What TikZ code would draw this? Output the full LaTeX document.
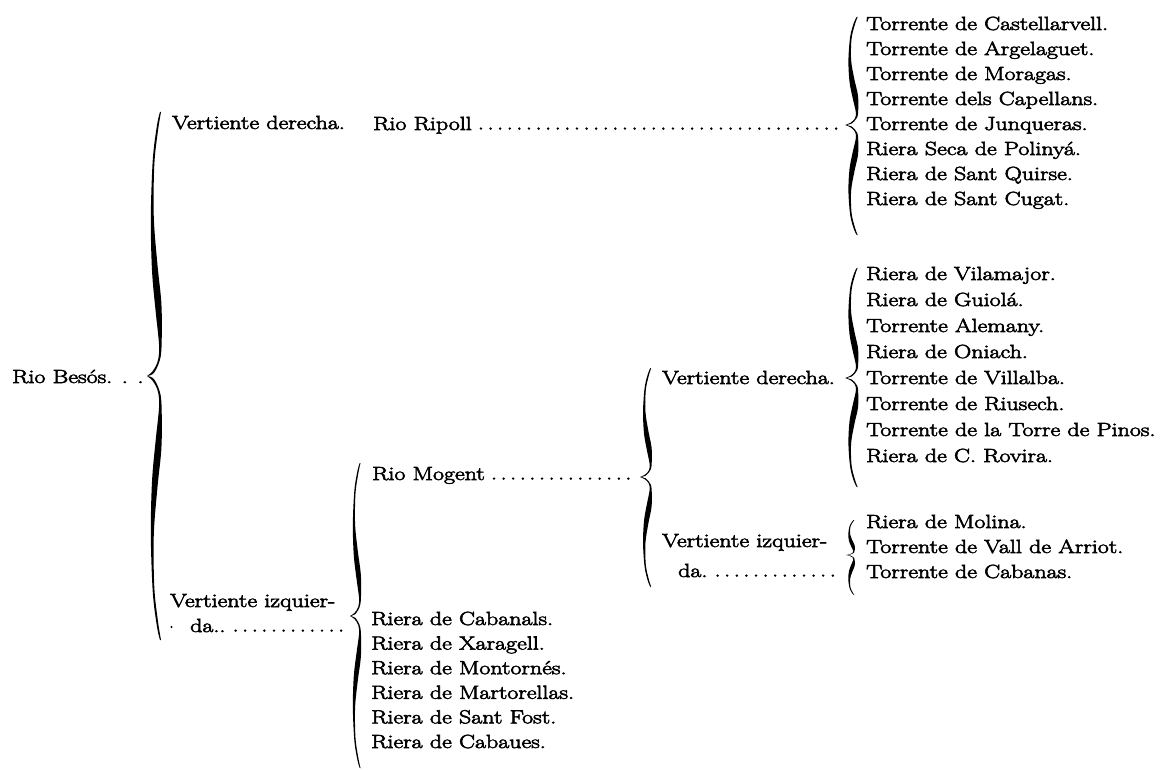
\documentclass[tikz,border=0pt]{standalone}
\usepackage{fontspec}
\setmainfont{Latin Modern Roman}[FakeStretch=1.26, FakeBold=3.2]
\tikzset{
  lbl/.style={anchor=base west, inner sep=0pt, font=\fontsize{19}{20}\selectfont},
  leader/.style={line width=2.7pt, line cap=round, dash pattern=on 0pt off 9.6pt},
  halfbrace/.pic={
    \fill plot[smooth,tension=0.55] coordinates {(0,0) (6,-0.02) (11,-0.06) (12,-0.12) (8.5,-0.25) (5,-0.4) (3.8,-0.6) (5.8,-0.82) (10,-0.95) (13,-1)}
      -- plot[smooth,tension=0.55] coordinates {(14,-1) (11,-0.93) (7.3,-0.8) (6.8,-0.6) (10.5,-0.42) (14.3,-0.28) (14.8,-0.16) (13.5,-0.07) (7,-0.012) (0,0)} -- cycle;
  }
}
\begin{document}
\begin{tikzpicture}[x=1pt,y=-1pt]
\useasboundingbox (0,0) rectangle (1167,770);
\fill[white] (0,0) rectangle (1167,770);

% column 1
\node[lbl] (besos) at (12,383) {Rio Besós. . .};

% big brace
\pic[yscale=264] at (147,376) {halfbrace};
\pic[yscale=-264] at (147,376) {halfbrace};

% column 2
\node[lbl] (vd1) at (172,129) {Vertiente derecha.};
\node[lbl] (vi1a) at (170,607) {Vertiente izquier-};
\node[lbl] (vi1b) at (190,632) {da..};
\fill (171.5,627) circle (1.2);
\coordinate (vi1E) at (342,630.6);
\draw[leader] ([xshift=10pt,yshift=1.4pt]vi1b.base east) -- (vi1E);

% column 3
\node[lbl] (ripoll) at (373,130) {Rio Ripoll};
\coordinate (ripE) at (838,128.6);
\draw[leader] ([xshift=9pt,yshift=1.4pt]ripoll.base east) -- (ripE);

\pic[xscale=0.75, yscale=153] at (350,616) {halfbrace};
\pic[xscale=0.75, yscale=-152] at (350,616) {halfbrace};

\node[lbl] (mogent) at (372,480) {Rio Mogent};
\coordinate (mogE) at (633,478.6);
\draw[leader] ([xshift=9pt,yshift=1.4pt]mogent.base east) -- (mogE);

\foreach \t [count=\i] in {Riera de Cabanals., Riera de Xaragell., Riera de Montornés., Riera de Martorellas., Riera de Sant Fost., Riera de Cabaues.}
  \node[lbl] (low\i) at (371,600.4+24.6*\i) {\t};

% Ripoll brace and list
\pic[xscale=0.9, yscale=108] at (845,125) {halfbrace};
\pic[xscale=0.9, yscale=-110] at (845,125) {halfbrace};
\foreach \t [count=\i] in {Torrente de Castellarvell., Torrente de Argelaguet., Torrente de Moragas., Torrente dels Capellans., Torrente de Junqueras., Riera Seca de Polinyá., Riera de Sant Quirse., Riera de Sant Cugat.}
  \node[lbl] (rip\i) at (866,5+25*\i) {\t};

% Mogent brace
\pic[xscale=0.8, yscale=109] at (640,477) {halfbrace};
\pic[xscale=0.8, yscale=-110] at (640,477) {halfbrace};

% column 4
\node[lbl] (vd2) at (662,384) {Vertiente derecha.};
\node[lbl] (vi2a) at (662,547) {Vertiente izquier-};
\node[lbl] (vi2b) at (678,577) {da.};
\coordinate (vi2E) at (838,575.6);
\draw[leader] ([xshift=10pt,yshift=1.4pt]vi2b.base east) -- (vi2E);

% Mogent derecha brace and list
\pic[xscale=0.9, yscale=110] at (845,378) {halfbrace};
\pic[xscale=0.9, yscale=-109] at (845,378) {halfbrace};
\foreach \t [count=\i] in {Riera de Vilamajor., Riera de Guiolá., Torrente Alemany., Riera de Oniach., Torrente de Villalba., Torrente de Riusech., Torrente de la Torre de Pinos., Riera de C. Rovira.}
  \node[lbl] (md\i) at (866,254+26*\i) {\t};

% Mogent izquierda brace and list
\pic[xscale=0.6, yscale=35] at (846,555) {halfbrace};
\pic[xscale=0.6, yscale=-40] at (846,555) {halfbrace};
\foreach \t [count=\i] in {Riera de Molina., Torrente de Vall de Arriot., Torrente de Cabanas.}
  \node[lbl] (mi\i) at (866,503+25*\i) {\t};
\end{tikzpicture}
\end{document}
